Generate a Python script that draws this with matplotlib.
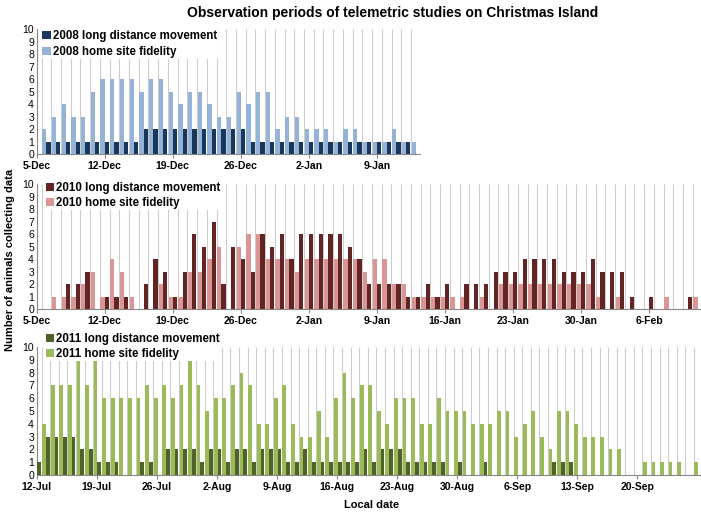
import matplotlib

matplotlib.use("Agg")
import matplotlib.pyplot as plt
import numpy as np

plt.rcParams["font.family"] = ["Liberation Sans", "DejaVu Sans"]

# 2008: days from 5-Dec (index 1 = 6-Dec)
home_2008 = [0, 2, 3, 4, 3, 3, 5, 6, 6, 6, 6, 5, 6, 6, 5, 4, 5, 5, 4, 3, 3,
             5, 4, 5, 5, 2, 3, 3, 2, 2, 2, 1, 2, 2, 1, 1, 1, 2, 1, 1]
long_2008 = [0, 1, 1, 1, 1, 1, 1, 1, 1, 1, 1, 2, 2, 2, 2, 2, 2, 2, 2, 2, 2,
             2, 1, 1, 1, 1, 1, 1, 1, 1, 1, 1, 1, 1, 1, 1, 1, 1, 1, 0]
ticks_2008 = ["5-Dec", "12-Dec", "19-Dec", "26-Dec", "2-Jan", "9-Jan"]

# 2010: days from 5-Dec
home_2010 = [0, 0, 1, 1, 1, 2, 3, 1, 4, 3, 1, 0, 0, 2, 1, 1, 3, 3, 4, 5, 0,
             5, 6, 6, 4, 4, 4, 3, 4, 4, 4, 4, 4, 4, 3, 4, 4, 2, 2, 1, 1,
             1, 1, 1, 1, 0, 1, 0, 2, 2, 2, 2, 2, 2, 2, 2, 2, 2, 1, 0, 1,
             0, 0, 0, 0, 1, 0, 0, 1]
long_2010 = [0, 0, 0, 2, 2, 3, 0, 1, 1, 1, 0, 2, 4, 3, 1, 3, 6, 5, 7, 2, 5,
             4, 3, 6, 5, 6, 4, 6, 6, 6, 6, 6, 5, 4, 2, 2, 2, 2, 1, 1, 2,
             1, 2, 0, 2, 2, 2, 3, 3, 3, 4, 4, 4, 4, 3, 3, 3, 4, 3, 3, 3,
             1, 0, 1, 0, 0, 0, 1, 0]
ticks_2010 = ["5-Dec", "12-Dec", "19-Dec", "26-Dec", "2-Jan", "9-Jan",
              "16-Jan", "23-Jan", "30-Jan", "6-Feb"]

# 2011: days from 12-Jul
home_2011 = [0, 4, 7, 7, 7, 9, 7, 9, 6, 6, 6, 6, 6, 7, 6, 7, 6, 7, 9, 7, 5,
             6, 6, 7, 8, 7, 4, 4, 6, 7, 4, 3, 3, 5, 3, 6, 8, 6, 7, 7, 5,
             4, 6, 6, 6, 4, 4, 6, 5, 5, 5, 4, 4, 4, 5, 5, 3, 4, 5, 3, 2,
             5, 5, 4, 3, 3, 3, 2, 2, 0, 0, 1, 1, 1, 1, 1, 0, 1]
long_2011 = [1, 3, 3, 3, 3, 2, 2, 1, 1, 1, 0, 0, 1, 1, 0, 2, 2, 2, 2, 1, 2,
             2, 1, 2, 2, 1, 2, 2, 2, 1, 1, 2, 1, 1, 1, 1, 1, 1, 2, 1, 2,
             2, 2, 1, 1, 1, 1, 1, 0, 1, 0, 0, 1, 0, 0, 0, 0, 0, 0, 0, 1,
             1, 1, 0, 0, 0, 0, 0, 0, 0, 0, 0, 0, 0, 0, 0, 0, 0]
ticks_2011 = ["12-Jul", "19-Jul", "26-Jul", "2-Aug", "9-Aug", "16-Aug",
              "23-Aug", "30-Aug", "6-Sep", "13-Sep", "20-Sep"]

W, H = 701, 519
fig = plt.figure(figsize=(W / 100, H / 100), dpi=100)


def px_axes(left, bottom_px, width, height):
    return fig.add_axes([left / W, (H - bottom_px) / H, width / W, height / H])


def panel(ax, year, home, long_, ticks, ndays, dark, light, shift, leg_y):
    days = np.arange(len(home))
    ax.vlines(np.arange(ndays + 1) + 0.5 + shift, 0, 10, color="#cccccc",
              lw=0.8, zorder=0)
    ax.bar(days - 0.22 + shift, home, width=0.44, color=light, zorder=2,
           label=f"{year} home site fidelity")
    ax.bar(days + 0.22 + shift, long_, width=0.44, color=dark, zorder=3,
           label=f"{year} long distance movement")
    ax.set_xlim(0, ndays)
    ax.set_ylim(0, 10)
    ax.set_yticks(range(11))
    ax.set_xticks(np.arange(len(ticks)) * 7)
    ax.set_xticklabels(ticks, fontweight="bold")
    ax.tick_params(axis="both", labelsize=7.5, length=3, color="#888888",
                   pad=2)
    ax.tick_params(axis="y", length=0)
    for s in ("top", "right"):
        ax.spines[s].set_visible(False)
    for s in ("left", "bottom"):
        ax.spines[s].set_color("#888888")
    h, lab = ax.get_legend_handles_labels()
    leg = ax.legend(h[::-1], lab[::-1], loc="upper left",
                    bbox_to_anchor=(0.012, leg_y), fontsize=8.3, frameon=True,
                    facecolor="white", edgecolor="none", framealpha=1,
                    handlelength=0.7, handleheight=0.7, handletextpad=0.2,
                    labelspacing=0.3, borderpad=0.1, borderaxespad=0)
    for t in leg.get_texts():
        t.set_fontweight("bold")
    leg.set_zorder(5)


ax1 = px_axes(36.7, 154.3, 383, 125)
panel(ax1, 2008, home_2008, long_2008, ticks_2008, 39.4,
      "#17375e", "#95b3d7", 0.0, 1.0)
ax2 = px_axes(36.7, 309.3, 663.4, 125)
panel(ax2, 2010, home_2010, long_2010, ticks_2010, 68.25,
      "#632523", "#d99694", 0.0, 1.03)
ax3 = px_axes(36.7, 475, 663.4, 128)
panel(ax3, 2011, home_2011, long_2011, ticks_2011, 77.3,
      "#4f6228", "#9bbb59", 0.08, 1.12)

fig.text(0.56, 0.975, "Observation periods of telemetric studies on Christmas Island",
         ha="center", va="center", fontsize=10, fontweight="bold")
fig.text(0.014, 0.5, "Number of animals collecting data", rotation=90,
         ha="center", va="center", fontsize=8, fontweight="bold")
fig.text(0.53, 0.027, "Local date", ha="center", va="center", fontsize=8,
         fontweight="bold")

fig.savefig("out.png", dpi=100)
